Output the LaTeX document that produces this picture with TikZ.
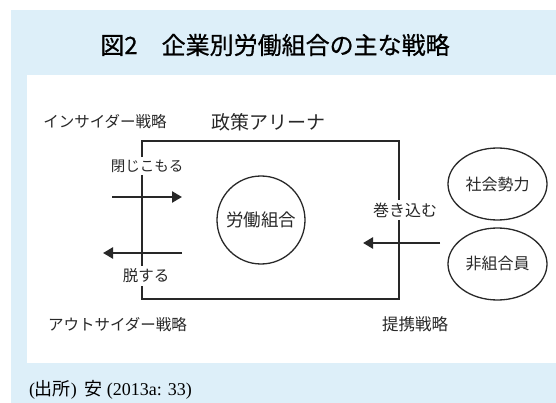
\documentclass[tikz,border=0pt]{standalone}
\usepackage{fontspec}
\setmainfont{Liberation Serif}
\newfontfamily\jp{Noto Sans CJK JP}
\newfontfamily\jpm{Noto Sans CJK JP}[FakeBold=0.7]
\usetikzlibrary{arrows.meta,shapes.geometric}
\definecolor{bgblue}{RGB}{221,239,249}
\definecolor{ink}{RGB}{40,40,40}
\newcommand{\fsz}[1]{\fontsize{#1}{#1}\selectfont}
\begin{document}
\begin{tikzpicture}[x=1pt,y=-1pt,
  every node/.style={inner sep=0pt,outer sep=0pt},
  lbl/.style={font=\jp\fsz{15.5}, text=ink},
  gaplbl/.style={lbl, inner sep=2.5pt},
  frame/.style={line width=2.6pt, draw=ink},
  arr/.style={line width=2.8pt, draw=ink, -{Triangle[length=10pt,width=11pt]}},
  oval/.style={draw=ink, line width=1.3pt, ellipse, font=\jp\fsz{16}, text=ink}]
\useasboundingbox (0,0) rectangle (556,403);
\fill[white] (0,0) rectangle (556,403);
\fill[bgblue] (11,10) rectangle (556,403);
\fill[white] (27,75) rectangle (556,363);

\node[font=\jpm\fsz{24}, text=black] (title) at (275,45) {図2　企業別労働組合の主な戦略};

\coordinate (tl) at (142,141);
\coordinate (tr) at (399,141);
\coordinate (bl) at (142,299);
\coordinate (br) at (399,299);

\node[lbl] (insider) at (105,122) {インサイダー戦略};
\node[lbl, font=\jp\fsz{19}] (arena) at (268.5,122) {政策アリーナ};
\node[gaplbl, font=\jp\fsz{14.5}] (close) at (147,166) {閉じこもる};
\node[gaplbl, font=\jp\fsz{15.5}] (leave) at (146,276) {脱する};
\node[gaplbl, font=\jp\fsz{16}] (involve) at (405,210) {巻き込む};
\node[lbl] (outsider) at (117.5,325) {アウトサイダー戦略};
\node[lbl, font=\jp\fsz{16.5}] (alliance) at (415,324) {提携戦略};

\node[oval, circle, minimum size=88pt, font=\jp\fsz{17.5}] (union) at (261,220) {労働組合};
\node[oval, minimum width=99pt, minimum height=72pt] (social) at (497.5,184) {社会勢力};
\node[oval, minimum width=99pt, minimum height=72pt] (nonmem) at (497.5,264) {非組合員};

\draw[frame] (close.north -| tl) -- (tl) -- (tr) -- (involve.north -| tr);
\draw[frame] (involve.south -| tr) -- (br) -- (bl) -- (leave.south -| bl);
\draw[frame] (close.south -| tl) -- (leave.north -| tl);

\coordinate (inS) at (112,197);
\coordinate (inE) at (182,197);
\coordinate (outS) at (182,253);
\coordinate (outE) at (103,253);
\coordinate (invS) at (440,243);
\coordinate (invE) at (363,243);
\draw[arr] (inS) -- (inE);
\draw[arr] (outS) -- (outE);
\draw[arr] (invS) -- (invE);

\node[anchor=west, font=\fsz{18}, text=black] (source) at (29,390) {(\jp 出所\rmfamily)\, {\jp 安} (2013a: 33)};
\end{tikzpicture}
\end{document}
